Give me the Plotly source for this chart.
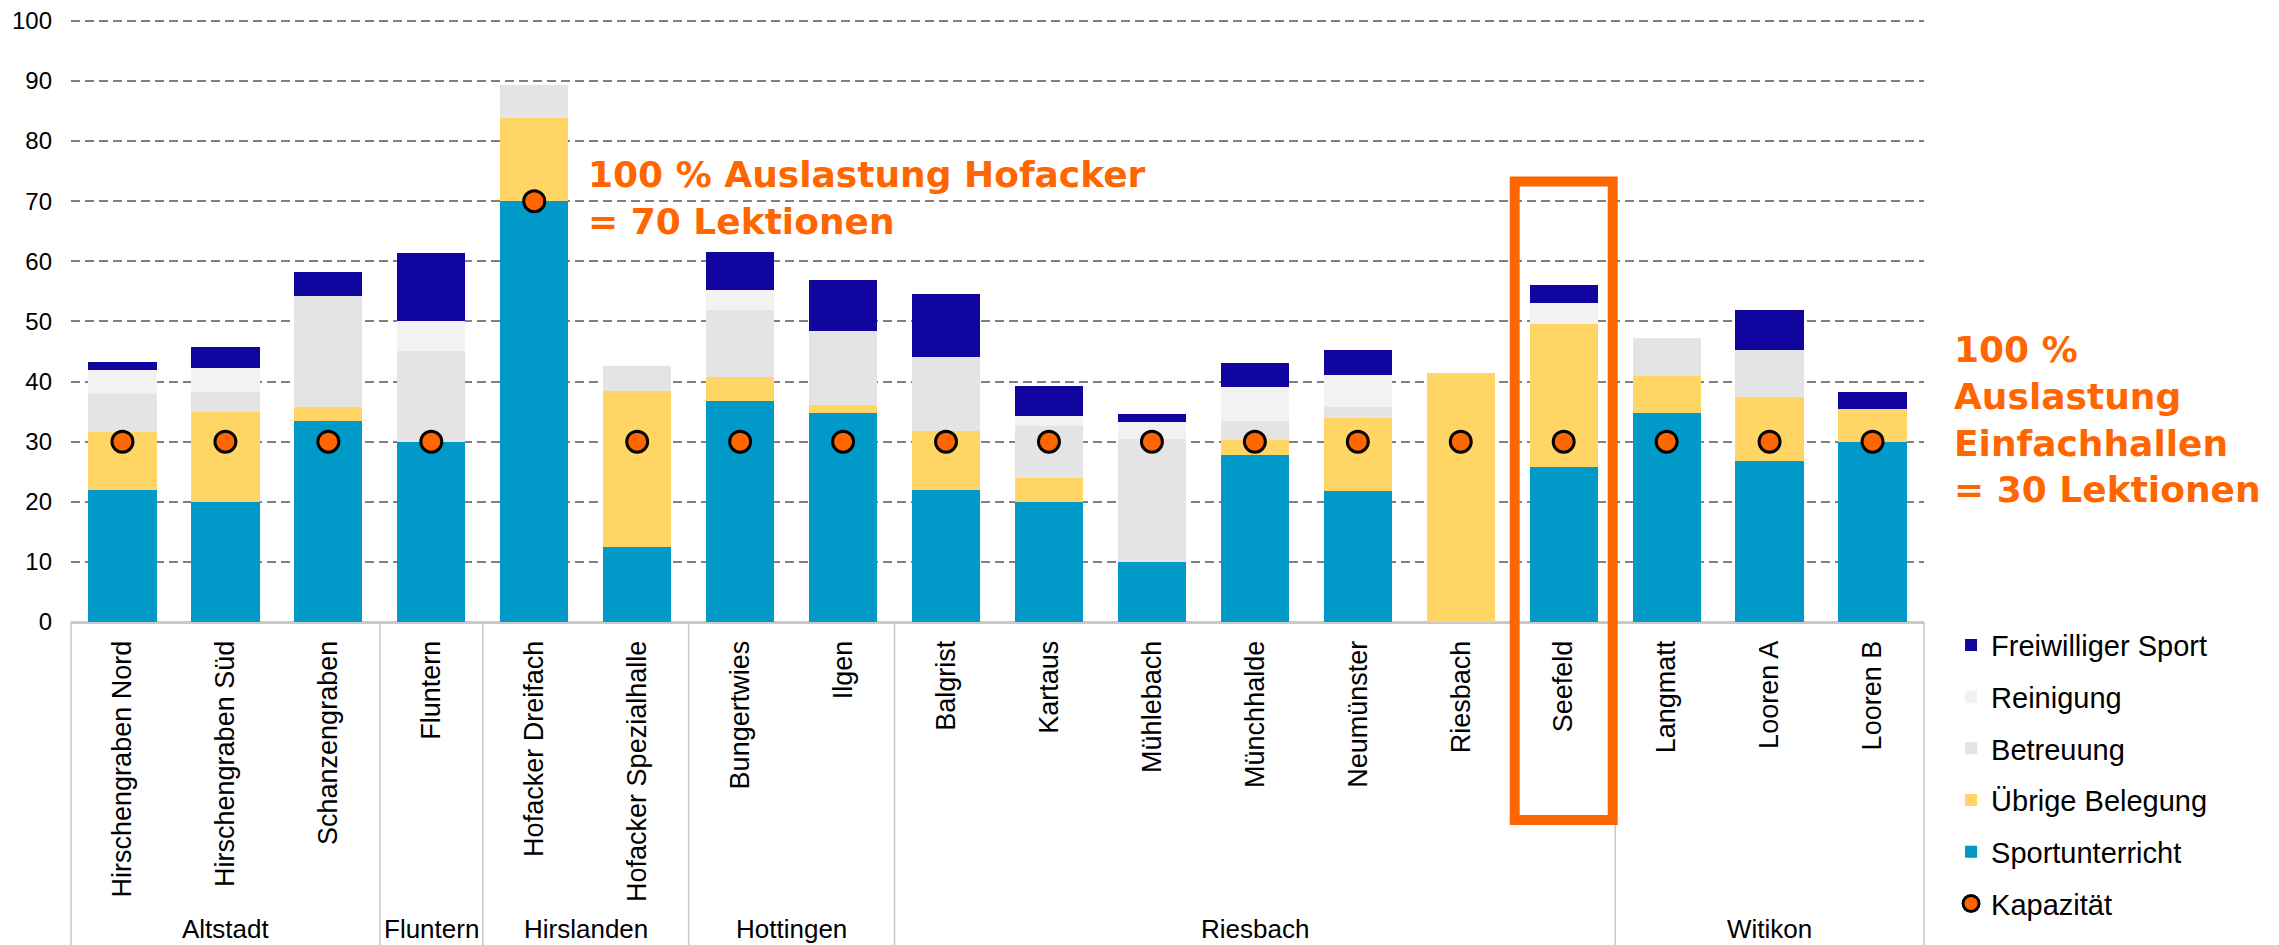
import plotly.graph_objects as go

# Hallen (x-Kategorien) und Quartiere
categories = [
    "Hirschengraben Nord", "Hirschengraben Süd", "Schanzengraben", "Fluntern",
    "Hofacker Dreifach", "Hofacker Spezialhalle", "Bungertwies", "Ilgen",
    "Balgrist", "Kartaus", "Mühlebach", "Münchhalde", "Neumünster", "Riesbach",
    "Seefeld", "Langmatt", "Looren A", "Looren B",
]
groups = ["Altstadt", "Fluntern", "Hirslanden", "Hottingen", "Riesbach", "Witikon"]
group_sizes = [3, 1, 2, 2, 7, 3]

# Lektionen pro Woche (aus dem Bild geschätzt)
sportunterricht = [22, 20, 33.5, 30, 70, 12.4, 36.8, 34.8, 22, 20, 10, 27.8, 21.8, 0, 25.8, 34.8, 26.8, 30]
uebrige_belegung = [9.6, 15, 2.3, 0, 13.8, 26, 4, 1.3, 9.8, 4, 0, 2.4, 12.1, 41.5, 23.7, 6.1, 10.7, 5.5]
betreuung = [6.3, 3.3, 18.5, 15, 5.5, 4.1, 11.1, 12.3, 12.3, 8.6, 20.5, 3.3, 1.9, 0, 0, 6.3, 7.7, 0]
reinigung = [4, 4, 0, 5, 0, 0, 3.4, 0, 0, 1.6, 2.8, 5.6, 5.3, 0, 3.6, 0, 0, 0]
freiwilliger_sport = [1.3, 3.4, 4, 11.3, 0, 0, 6.2, 8.5, 10.4, 5, 1.3, 4, 4.1, 0, 2.9, 0, 6.7, 2.7]
kapazitaet = [30, 30, 30, 30, 70, 30, 30, 30, 30, 30, 30, 30, 30, 30, 30, 30, 30, 30]

FONT = "Liberation Sans, Arial, sans-serif"
ORANGE = "#FF6600"

series = [
    ("Sportunterricht", sportunterricht, "#0099C8", 5),
    ("Übrige Belegung", uebrige_belegung, "#FFD666", 4),
    ("Betreuung", betreuung, "#E4E4E4", 3),
    ("Reinigung", reinigung, "#F2F2F2", 2),
    ("Freiwilliger Sport", freiwilliger_sport, "#10069F", 1),
]

fig = go.Figure()
for name, values, color, rank in series:
    fig.add_trace(go.Bar(
        x=categories, y=values, name=name,
        marker=dict(color=color, line_width=0),
        legendrank=rank, legendgroup=name,
        hoverinfo="skip",
    ))

fig.add_trace(go.Scatter(
    x=categories, y=kapazitaet, mode="markers", name="Kapazität",
    marker=dict(color=ORANGE, size=21, line=dict(color="black", width=3)),
    legendrank=6, legendgroup="kap", hoverinfo="skip",
))

n_cat = len(categories)

# Quartier-Trennlinien und Beschriftungen unter der Achse
bounds = [0]
for n in group_sizes:
    bounds.append(bounds[-1] + n)
for b in bounds:
    fig.add_shape(type="line", xref="paper", yref="paper",
                  x0=b / n_cat, x1=b / n_cat, y0=0, y1=-0.54,
                  line=dict(color="#C8C8C8", width=1.5))
for g, start, end in zip(groups, bounds[:-1], bounds[1:]):
    fig.add_annotation(text=g, xref="paper", yref="paper",
                       x=(start + end) / 2 / n_cat, y=-0.509,
                       xanchor="center", yanchor="middle", showarrow=False,
                       font=dict(family=FONT, size=26, color="black"))

# Rahmen um Seefeld
i_see = categories.index("Seefeld")
fig.add_shape(type="rect", xref="paper", yref="paper",
              x0=(i_see + 0.024) / n_cat, x1=(i_see + 0.976) / n_cat,
              y0=-0.3284, y1=0.7305,
              line=dict(color=ORANGE, width=10), fillcolor="rgba(0,0,0,0)")

# Hinweise
i_hof = categories.index("Hofacker Dreifach")
fig.add_annotation(text="<b>100 % Auslastung Hofacker<br>= 70 Lektionen</b>",
                   xref="x", yref="y", x=i_hof + 0.5, y=kapazitaet[i_hof] + 0.5,
                   xanchor="left", yanchor="middle", align="left", showarrow=False,
                   font=dict(family="DejaVu Sans", size=36, color=ORANGE))
fig.add_annotation(text="<b>100 %<br>Auslastung<br>Einfachhallen<br>= 30 Lektionen</b>",
                   xref="paper", yref="paper", x=1.0151, y=0.335,
                   xanchor="left", yanchor="middle", align="left", showarrow=False,
                   font=dict(family="DejaVu Sans", size=36, color=ORANGE))

# Seite hat 8 px Rand -> Figur etwas kleiner, Plotfläche bleibt an derselben Stelle
fig.update_layout(
    width=2271, height=937,
    margin=dict(l=63, r=355, t=11, b=323, autoexpand=False),
    barmode="stack", bargap=0.337,
    plot_bgcolor="white", paper_bgcolor="white",
    font=dict(family=FONT, color="black"),
    xaxis=dict(
        range=[-0.5, n_cat - 0.5],
        tickangle=-90, tickfont=dict(size=27, color="black"),
        showline=True, linecolor="#C8C8C8", linewidth=2,
        ticks="", ticklabelstandoff=6, showgrid=False, automargin=False,
    ),
    yaxis=dict(
        range=[0, 100.3], dtick=10, tick0=0,
        tickfont=dict(size=24, color="black"), ticklabeloverflow="allow",
        showgrid=True, gridcolor="#808080", gridwidth=1.8, griddash="9px,5px",
        zeroline=True, zerolinecolor="#C8C8C8", zerolinewidth=2,
        ticks="", ticklabelstandoff=18, showline=False, automargin=False,
    ),
    legend=dict(
        x=1.0146, y=0.004, xanchor="left", yanchor="top",
        traceorder="grouped", tracegroupgap=11,
        font=dict(family=FONT, size=29, color="black"),
        bgcolor="rgba(0,0,0,0)",
    ),
    showlegend=True,
)

fig.write_html("out.html")
